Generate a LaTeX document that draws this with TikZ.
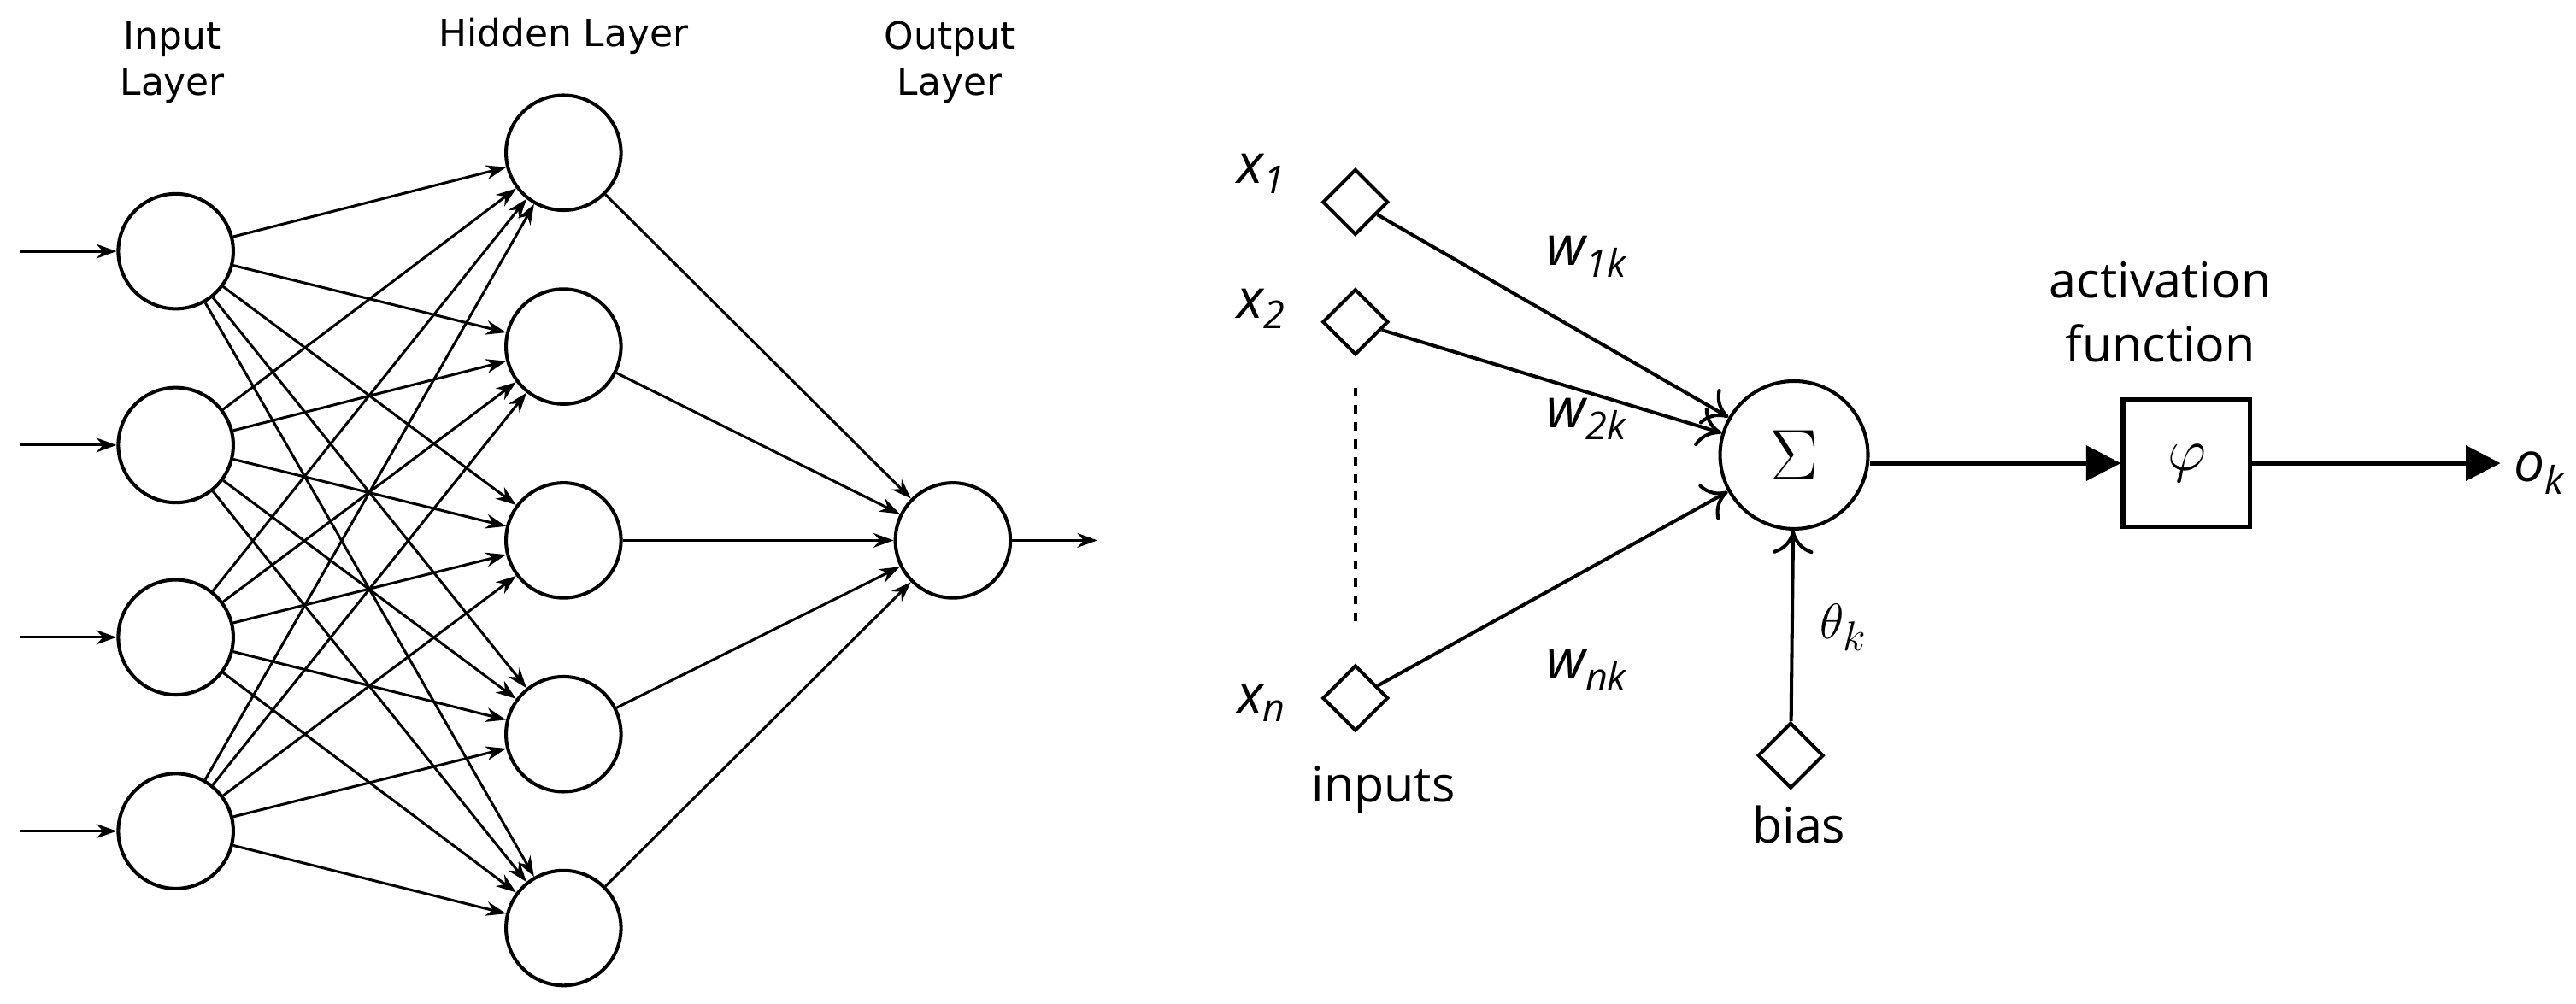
\documentclass[tikz,border=0pt]{standalone}
\usepackage{fontspec}
\setmainfont{DejaVu Sans}
\newfontfamily\rightfont{Open Sans}
\usetikzlibrary{shapes.geometric,arrows.meta}
\tikzset{
  neuron/.style={circle, draw, line width=1.2pt, minimum size=1.4cm, inner sep=0pt},
  link/.style={line width=0.9pt, -{Stealth[length=7pt,width=5pt]}},
  port/.style={diamond, draw, line width=1.2pt, minimum size=0.8cm, inner sep=0pt},
  inlink/.style={line width=1.2pt, -{To[length=8pt,width=14pt]}},
  outlink/.style={line width=1.5pt, -{Triangle[length=12pt,width=12pt]}},
  layer/.style={font=\fontsize{13}{16}\selectfont, align=center},
  note/.style={font=\rightfont\fontsize{17}{22}\selectfont, align=center},
  var/.style={font=\rightfont\itshape\fontsize{19}{22}\selectfont}
}
\begin{document}
\begin{tikzpicture}[x=0.02cm, y=-0.02cm]
  \useasboundingbox (0,0) rectangle (1568,611);
  % network
  \foreach \i/\y in {1/153, 2/271, 3/388, 4/506} {
    \node[neuron] (in\i) at (107,\y) {};
    \coordinate (src\i) at (12,\y);
    \draw[link] (src\i) -- (in\i);
  }
  \foreach \j/\y in {1/93, 2/211, 3/329, 4/447, 5/565}
    \node[neuron] (hid\j) at (343,\y) {};
  \node[neuron] (out) at (580,329) {};
  \coordinate (res) at (668,329);
  \foreach \i in {1,...,4}
    \foreach \j in {1,...,5}
      \draw[link] (in\i) -- (hid\j);
  \foreach \j in {1,...,5}
    \draw[link] (hid\j) -- (out);
  \draw[link] (out) -- (res);
  \node[layer] (lin) at (105,38) {Input\\Layer};
  \node[layer] (lhid) at (343,22) {Hidden Layer};
  \node[layer] (lout) at (578,38) {Output\\Layer};
  % neuron model
  \node[port] (x1) at (825,123) {};
  \node[port] (x2) at (825,196) {};
  \node[port] (xn) at (825,425) {};
  \node[port] (bias) at (1090,460) {};
  \node[circle, draw, line width=1.2pt, minimum size=1.8cm, inner sep=0pt] (sum) at (1092,277) {\fontsize{26}{26}\selectfont$\Sigma$};
  \node[draw, line width=1.5pt, minimum width=1.55cm, minimum height=1.55cm] (phi) at (1331,282) {\fontsize{20}{20}\selectfont$\varphi$};
  \coordinate (ok) at (1522,282);
  \draw[dashed, line width=1.2pt] (825,236) -- (825,380);
  \draw[inlink] (x1) -- (sum);
  \draw[inlink] (x2) -- (sum);
  \draw[inlink] (xn) -- (sum);
  \draw[inlink] (bias) -- (sum);
  \draw[outlink] (sum.east |- phi) -- (phi);
  \draw[outlink] (phi) -- (ok);
  \node[var] (lx1) at (768,106) {x\textsubscript{1}};
  \node[var] (lx2) at (768,188) {x\textsubscript{2}};
  \node[var] (lxn) at (768,428) {x\textsubscript{n}};
  \node[var] (lw1) at (966,156) {w\textsubscript{1k}};
  \node[var] (lw2) at (966,255) {w\textsubscript{2k}};
  \node[var] (lwn) at (966,408) {w\textsubscript{nk}};
  \node[font=\fontsize{19}{22}\selectfont] (lth) at (1122,382) {$\theta_k$};
  \node[var] (lo) at (1546,288) {o\textsubscript{k}};
  \node[note] (lact) at (1315,190) {activation\\function};
  \node[note] (linp) at (842,481) {inputs};
  \node[note] (lbias) at (1095,502) {bias};
\end{tikzpicture}
\end{document}
